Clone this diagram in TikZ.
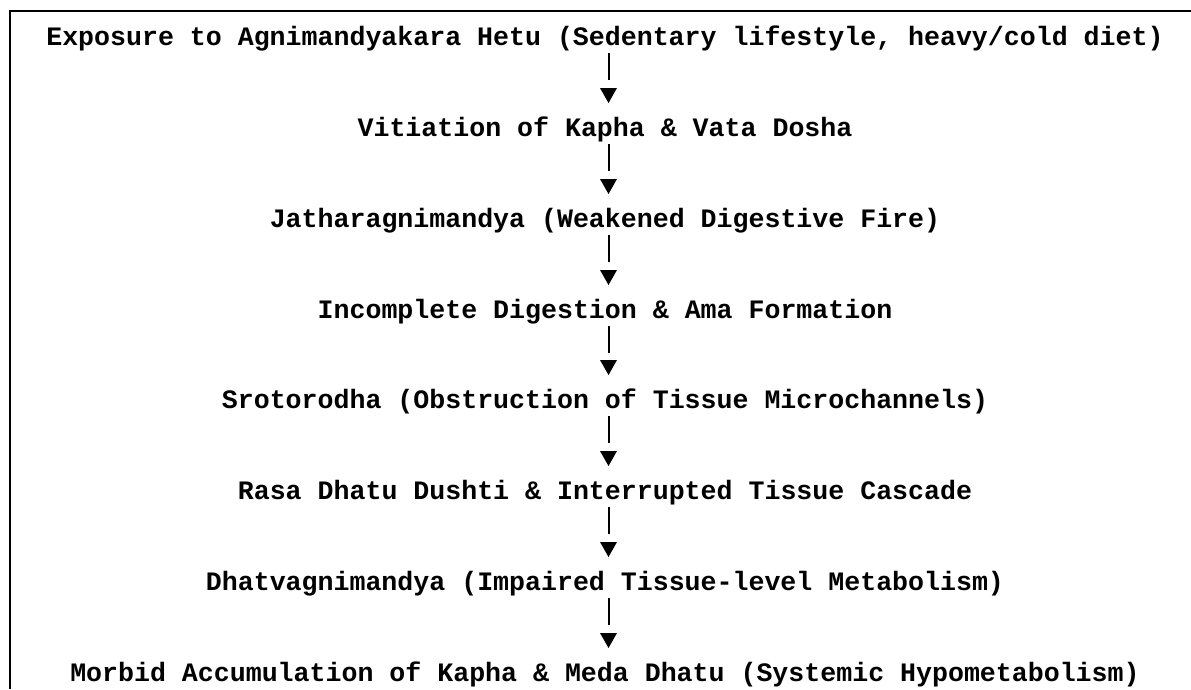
\documentclass[tikz,border=0pt]{standalone}
\usepackage{fontspec}
\setmonofont{Liberation Mono}
\usetikzlibrary{calc}
\begin{document}
\begin{tikzpicture}[x=1pt,y=-1pt,
  lbl/.style={font=\ttfamily\bfseries\fontsize{26.6}{30}\selectfont, inner sep=0pt, anchor=base},
  bar/.style={line width=2pt, line cap=butt},
  tri/.style={fill=black, draw=none},
  frame/.style={line width=2pt}]
\useasboundingbox (0,0) rectangle (1191,689);
\draw[frame] (10,689) -- (10,10.5) -- (1191,10.5);
\node[lbl] (n1) at (605,45) {Exposure to Agnimandyakara Hetu (Sedentary lifestyle, heavy/cold diet)};
\node[lbl] (n2) at (605,136) {Vitiation of Kapha \& Vata Dosha};
\node[lbl] (n3) at (605,227) {Jatharagnimandya (Weakened Digestive Fire)};
\node[lbl] (n4) at (605,318) {Incomplete Digestion \& Ama Formation};
\node[lbl] (n5) at (605,408) {Srotorodha (Obstruction of Tissue Microchannels)};
\node[lbl] (n6) at (605,499) {Rasa Dhatu Dushti \& Interrupted Tissue Cascade};
\node[lbl] (n7) at (605,590) {Dhatvagnimandya (Impaired Tissue-level Metabolism)};
\node[lbl] (n8) at (605,681) {Morbid Accumulation of Kapha \& Meda Dhatu (Systemic Hypometabolism)};
\foreach \a/\b in {n1/n2,n2/n3,n3/n4,n4/n5,n5/n6,n6/n7,n7/n8}{
  \draw[bar] ($(\a.base)+(3.5,8)$) -- ($(\a.base)+(3.5,35)$);
  \fill[tri] ($(\b.base)+(-5,-48)$) -- ($(\b.base)+(12,-48)$) -- ($(\b.base)+(3.5,-33)$) -- cycle;
}
\end{tikzpicture}
\end{document}
